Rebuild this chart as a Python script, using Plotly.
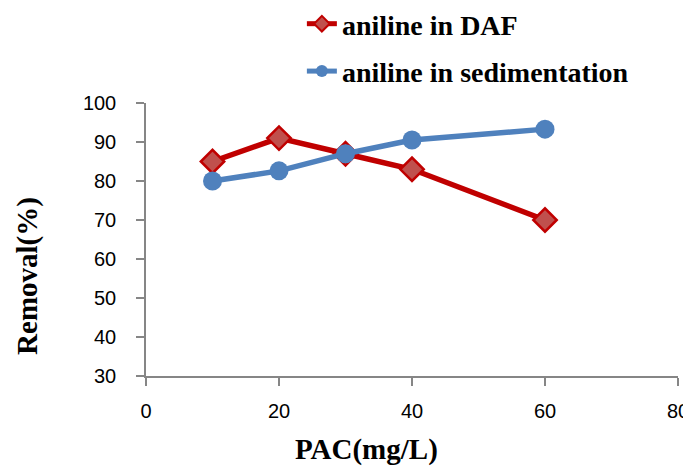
import plotly.graph_objects as go

pac = [10, 20, 30, 40, 60]
daf = [85, 91, 87, 83, 70]
sed = [80, 82.6, 87, 90.5, 93.3]
x_ticks = [0, 20, 40, 60, 80]
y_ticks = [30, 40, 50, 60, 70, 80, 90, 100]

fig = go.Figure()
fig.add_trace(go.Scatter(
    x=pac, y=daf, name="aniline in DAF", mode="lines+markers",
    line=dict(color="#C00000", width=5.5),
    marker=dict(symbol="diamond", size=18, color="#C0504D",
                line=dict(color="#C00000", width=2.5)),
    legendgroup="a"))
fig.add_trace(go.Scatter(
    x=pac, y=sed, name="aniline in sedimentation", mode="lines+markers",
    line=dict(color="#4F81BD", width=5.5),
    marker=dict(symbol="circle", size=19, color="#4F81BD"),
    legendgroup="b"))

axis_common = dict(showline=True, linecolor="#868686", linewidth=1.5,
                   ticks="outside", ticklen=8, tickcolor="#868686", tickwidth=1.5,
                   showgrid=False, zeroline=False, automargin=False,
                   tickfont=dict(family="Liberation Sans", size=20, color="black"))

title_font = dict(family="Liberation Serif", size=29, color="black")

fig.update_layout(
    width=683, height=460,
    margin=dict(l=138, r=13, t=95, b=92, autoexpand=False),
    plot_bgcolor="white", paper_bgcolor="white",
    xaxis=dict(range=[0, 80], tickvals=x_ticks, ticklabelstandoff=8, **axis_common),
    yaxis=dict(range=[30, 100], tickvals=y_ticks, ticklabelstandoff=16, **axis_common),
    legend=dict(x=0.293, y=1.381, xanchor="left", yanchor="top",
                traceorder="grouped", tracegroupgap=8, itemsizing="constant",
                font=dict(family="Liberation Serif", size=28, color="black", weight="bold"),
                bgcolor="rgba(0,0,0,0)"),
    showlegend=True,
    annotations=[
        dict(text="<b>PAC(mg/L)</b>", xref="paper", yref="paper",
             x=0.415, y=-0.271, xanchor="center", yanchor="middle",
             showarrow=False, font=title_font),
        dict(text="<b>Removal(%)</b>", xref="paper", yref="paper",
             x=-0.224, y=0.366, xanchor="center", yanchor="middle",
             textangle=-90, showarrow=False, font=title_font),
    ],
)

fig.write_html("out.html")
